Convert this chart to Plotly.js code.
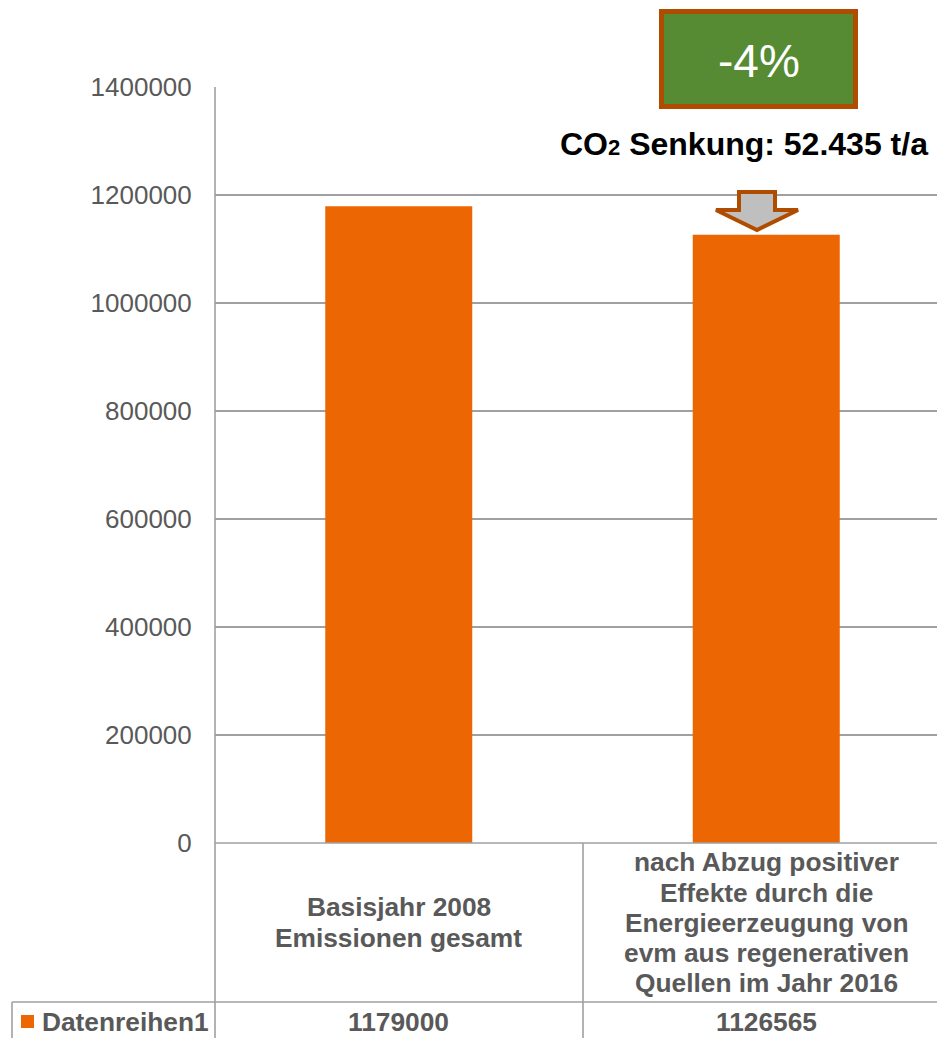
<!DOCTYPE html>
<html>
<head>
<meta charset="utf-8">
<script src="https://cdn.plot.ly/plotly-3.0.1.min.js"></script>
<style>
html,body{margin:0;padding:0;overflow:hidden;background:#fff;}
#chart{width:950px;height:1038px;}
</style>
</head>
<body>
<div id="chart"></div>
<script>
// ---- data ----
const categories = ["Basisjahr 2008<br>Emissionen gesamt",
  "nach Abzug positiver<br>Effekte durch die<br>Energieerzeugung von<br>evm aus regenerativen<br>Quellen im Jahr 2016"];
const categoryKeys = ["Basisjahr 2008", "nach Abzug 2016"];
const values = [1179000, 1126565];
const seriesName = "Datenreihen1";
const yTicks = [0, 200000, 400000, 600000, 800000, 1000000, 1200000, 1400000];
const changeLabel = "-4%";
const reductionLabel = "CO<span style='font-size:22px'>2</span> Senkung: 52.435 t/a";

// ---- layout geometry (pixels) ----
const W = 950, H = 1038, ML = 215, MT = 87, MB = 195;
const PW = W - ML, PH = H - MT - MB;
const px = x => (x - ML) / PW;
const py = y => (MT + PH - y) / PH;

const grey = '#595959', lineC = '#a0a0a0', orange = '#EC6604';
const FONT = 'Arial, "Liberation Sans", sans-serif';

const shapes = [];
const line = (x0, y0, x1, y1) => shapes.push({type:'line', xref:'paper', yref:'paper',
  x0:px(x0), y0:py(y0), x1:px(x1), y1:py(y1), line:{color:lineC, width:1.6}});
// table lines
line(215, 87, 215, 1038);
line(215, 843, 950, 843);
line(583, 843, 583, 1038);
line(12, 1002, 950, 1002);
line(12, 1002, 12, 1038);
// legend square
shapes.push({type:'rect', xref:'paper', yref:'paper', x0:px(21), x1:px(34), y0:py(1015), y1:py(1028),
  fillcolor:orange, line:{width:0}});
// green box
shapes.push({type:'rect', xref:'paper', yref:'paper', x0:px(661.5), x1:px(855.5), y0:py(11.5), y1:py(106.5),
  fillcolor:'#568B33', line:{color:'#B04C00', width:5}});
// arrow
const arrowPts = [[739,192],[775,192],[775,210],[798,210],[757,230],[716,210],[739,210]];
shapes.push({type:'path', xref:'paper', yref:'paper',
  path:'M' + arrowPts.map(p => px(p[0]) + ',' + py(p[1])).join(' L') + ' Z',
  fillcolor:'#BFBFBF', line:{color:'#B04C00', width:4}});

const annotations = [];
// category labels, one annotation per line, 30px spacing centred on cell
categories.forEach((c, i) => {
  const lines = c.split('<br>');
  const n = lines.length;
  lines.forEach((t, j) => {
    const yc = 922.5 + (j - (n - 1) / 2) * 30;
    annotations.push({xref:'x', yref:'paper', x:categoryKeys[i], y:py(yc), text:'<b>' + t + '</b>',
      showarrow:false, xanchor:'center', yanchor:'middle', font:{family:FONT, size:26.3, color:grey}});
  });
  annotations.push({xref:'x', yref:'paper', x:categoryKeys[i], y:py(1022), text:'<b>' + values[i] + '</b>',
    showarrow:false, xanchor:'center', yanchor:'middle', font:{family:FONT, size:26.3, color:grey}});
});
annotations.push({xref:'paper', yref:'paper', x:px(40), y:py(1022), text:'<b>' + seriesName + '</b>',
  showarrow:false, xanchor:'left', yanchor:'middle', font:{family:FONT, size:26.3, color:grey}});
annotations.push({xref:'paper', yref:'paper', x:px(758.5), y:py(61), text:changeLabel,
  showarrow:false, xanchor:'center', yanchor:'middle', font:{family:FONT, size:46, color:'#ffffff'}});
annotations.push({xref:'paper', yref:'paper', x:px(744), y:py(144), text:'<b>' + reductionLabel + '</b>',
  showarrow:false, xanchor:'center', yanchor:'middle', font:{family:FONT, size:32, color:'#000000'}});

const trace = {type:'bar', x:categoryKeys, y:values, name:seriesName, width:0.4,
  marker:{color:orange}, hoverinfo:'none'};

const layout = {
  width:W, height:H, margin:{l:ML, r:0, t:MT, b:MB, pad:0},
  paper_bgcolor:'#fff', plot_bgcolor:'#fff', showlegend:false,
  font:{family:FONT},
  xaxis:{type:'category', range:[-0.5, 1.5], showticklabels:false, showgrid:false, zeroline:false,
    showline:false, ticks:'', fixedrange:true},
  yaxis:{range:[0, 1400000], tickvals:yTicks, ticktext:yTicks.map(String), showgrid:true,
    gridcolor:lineC, gridwidth:1.6, zeroline:false, showline:false,
    ticks:'outside', ticklen:17, tickcolor:'rgba(0,0,0,0)',
    tickfont:{family:FONT, size:26, color:grey}, fixedrange:true},
  shapes:shapes, annotations:annotations
};

Plotly.newPlot('chart', [trace], layout, {staticPlot:true, displayModeBar:false});
</script>
</body>
</html>
